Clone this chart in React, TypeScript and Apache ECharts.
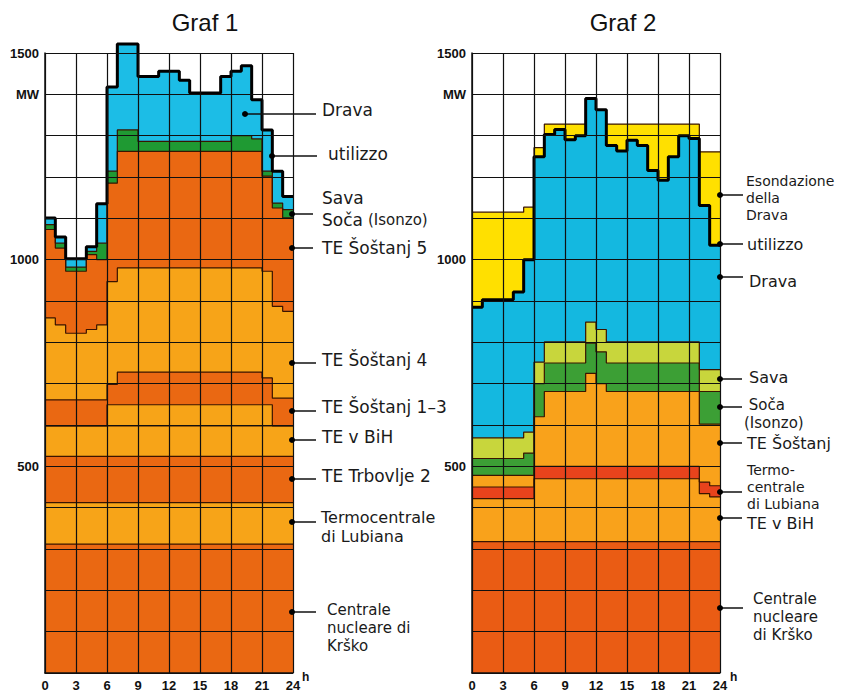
import { useEffect, useRef } from "react";
import * as echarts from "echarts";

// hours 0..23 (each value holds for one hour), axis ends at 24 h
const hours = [0, 1, 2, 3, 4, 5, 6, 7, 8, 9, 10, 11, 12, 13, 14, 15, 16, 17, 18, 19, 20, 21, 22, 23];
const endHour = 24;
const yTickLabels: Record<number, string> = { 1500: "1500", 1400: "MW", 1000: "1000", 500: "500" };

// ---------- Graf 1 (MW per layer, bottom to top) ----------
const g1Krsko = [312, 312, 312, 312, 312, 312, 312, 312, 312, 312, 312, 312, 312, 312, 312, 312, 312, 312, 312, 312, 312, 312, 312, 312];
const g1Lubiana = [100, 100, 100, 100, 100, 100, 100, 100, 100, 100, 100, 100, 100, 100, 100, 100, 100, 100, 100, 100, 100, 100, 100, 100];
const g1Trbovlje2 = [112, 112, 112, 112, 112, 112, 112, 112, 112, 112, 112, 112, 112, 112, 112, 112, 112, 112, 112, 112, 112, 112, 112, 112];
const g1BiH = [74, 74, 74, 74, 74, 74, 74, 74, 74, 74, 74, 74, 74, 74, 74, 74, 74, 74, 74, 74, 74, 74, 74, 74];
const g1BiHDay = [0, 0, 0, 0, 0, 0, 51, 51, 51, 51, 51, 51, 51, 51, 51, 51, 51, 51, 51, 51, 51, 51, 0, 0];
const g1Sostanj13 = [63, 63, 63, 63, 63, 63, 49, 79, 79, 79, 79, 79, 79, 79, 79, 79, 79, 79, 79, 79, 79, 65, 67, 67];
const g1Sostanj4 = [198, 181, 161, 161, 170, 181, 249, 252, 252, 252, 252, 252, 252, 252, 252, 252, 252, 252, 252, 252, 252, 258, 222, 210];
const g1Sostanj5 = [214, 186, 150, 150, 181, 158, 238, 282, 282, 282, 282, 282, 282, 282, 282, 282, 282, 282, 282, 282, 282, 230, 238, 226];
const g1SavaSoca = [12, 12, 10, 10, 8, 40, 29, 52, 52, 24, 24, 24, 24, 24, 24, 24, 24, 24, 38, 38, 30, 12, 12, 20];
const g1Drava = [16, 15, 20, 20, 11, 95, 204, 208, 208, 157, 157, 170, 170, 148, 117, 117, 117, 157, 156, 169, 95, 100, 77, 32];

// ---------- Graf 2 ----------
const g2Krsko = [318, 318, 318, 318, 318, 318, 318, 318, 318, 318, 318, 318, 318, 318, 318, 318, 318, 318, 318, 318, 318, 318, 318, 318];
const g2BiH = [104, 104, 104, 104, 104, 104, 152, 152, 152, 152, 152, 152, 152, 152, 152, 152, 152, 152, 152, 152, 152, 152, 116, 108];
const g2Lubiana = [28, 28, 28, 28, 28, 28, 30, 30, 30, 30, 30, 30, 30, 30, 30, 30, 30, 30, 30, 30, 30, 30, 28, 27];
const g2Sostanj = [28, 28, 28, 28, 28, 28, 120, 181, 181, 181, 181, 225, 200, 181, 181, 181, 181, 181, 181, 181, 181, 181, 140, 149];
const g2Soca = [41, 41, 41, 41, 41, 54, 80, 69, 69, 69, 69, 73, 77, 69, 69, 69, 69, 69, 69, 69, 69, 69, 79, 79];
const g2Sava = [50, 50, 50, 50, 50, 51, 52, 51, 51, 51, 51, 51, 54, 51, 51, 51, 51, 51, 51, 51, 51, 51, 53, 53];
const g2Drava = [316, 334, 334, 334, 353, 417, 497, 502, 514, 489, 499, 541, 532, 475, 462, 488, 475, 415, 391, 448, 499, 492, 397, 301];
const g2Esondazione = [230, 212, 212, 212, 193, 127, 22, 25, 13, 38, 28, 0, 0, 52, 65, 39, 52, 112, 136, 79, 28, 35, 130, 226];

const C1 = { dark: "#ea6812", light: "#f7a418", green: "#1f9a33", cyan: "#1cbde6" };
const C2 = { krsko: "#ea5c14", light: "#f9a21b", red: "#e8431c", green: "#3c9f35", lime: "#c8d63c", cyan: "#14b8e0", yellow: "#ffe000" };

const EDGE = "#3a1400";

type Layer = { name: string; vals: number[]; color: string };

function steps(vals: number[]) {
  const d: number[][] = hours.map((h, i) => [h, vals[i]]);
  d.push([endHour, vals[vals.length - 1]]);
  return d;
}

// cumulative tops, painted from the top layer down so each lower layer covers the one above
function layerSeries(layers: Layer[], gi: number) {
  const tops: number[][] = [];
  let run = hours.map(() => 0);
  layers.forEach((l) => {
    run = run.map((v, i) => v + l.vals[i]);
    tops.push(run);
  });
  const out: any[] = [];
  for (let k = layers.length - 1; k >= 0; k--) {
    out.push({
      type: "line",
      name: layers[k].name,
      xAxisIndex: gi,
      yAxisIndex: gi,
      step: "end",
      symbol: "none",
      clip: false,
      data: steps(tops[k]),
      lineStyle: { color: EDGE, width: 1.2 },
      areaStyle: { color: layers[k].color, opacity: 1, origin: "start" },
      itemStyle: { color: layers[k].color },
      emphasis: { disabled: true },
      z: 2,
    });
  }
  return { out, tops };
}

function totalSeries(name: string, vals: number[], gi: number) {
  return {
    type: "line",
    name,
    xAxisIndex: gi,
    yAxisIndex: gi,
    step: "end",
    symbol: "none",
    clip: false,
    data: steps(vals),
    lineStyle: { color: "#000", width: 3 },
    emphasis: { disabled: true },
    z: 4,
  };
}

type Lbl = { dot: [number, number]; end: number; text: string; x: number; y: number; lh?: number; size?: number };

const labels1: Lbl[] = [
  { dot: [245, 114], end: 316, text: "Drava", x: 322, y: 110 },
  { dot: [272, 156], end: 317, text: "utilizzo", x: 328, y: 154 },
  { dot: [292, 214], end: 313, text: "Sava", x: 322, y: 198 },
  { dot: [292, 214], end: 313, text: "Soča", x: 322, y: 220 },
  { dot: [292, 214], end: 313, text: "(Isonzo)", x: 368, y: 220, size: 15 },
  { dot: [292, 248], end: 313, text: "TE Šoštanj 5", x: 322, y: 248 },
  { dot: [292, 363], end: 316, text: "TE Šoštanj 4", x: 322, y: 360 },
  { dot: [292, 411], end: 316, text: "TE Šoštanj 1–3", x: 322, y: 407 },
  { dot: [292, 440], end: 316, text: "TE v BiH", x: 322, y: 437 },
  { dot: [292, 479], end: 316, text: "TE Trbovlje 2", x: 322, y: 476 },
  { dot: [292, 522], end: 316, text: "Termocentrale\ndi Lubiana", x: 321, y: 527, lh: 19, size: 16 },
  { dot: [292, 612], end: 316, text: "Centrale\nnucleare di\nKrško", x: 327, y: 628, lh: 18, size: 15 },
];

const labels2: Lbl[] = [
  { dot: [720, 195], end: 743, text: "Esondazione\ndella\nDrava", x: 746, y: 197.5, lh: 17, size: 14 },
  { dot: [720, 244], end: 743, text: "utilizzo", x: 747, y: 244 },
  { dot: [720, 277], end: 743, text: "Drava", x: 749, y: 281 },
  { dot: [720, 379], end: 742, text: "Sava", x: 749, y: 377 },
  { dot: [720, 407], end: 742, text: " Soča\n(Isonzo)", x: 744, y: 413.5, lh: 18, size: 15 },
  { dot: [720, 443], end: 742, text: "TE Šoštanj", x: 747, y: 443 },
  { dot: [720, 492], end: 742, text: "Termo-\ncentrale\ndi Lubiana", x: 747, y: 487, lh: 17, size: 14 },
  { dot: [720, 518], end: 742, text: "TE v BiH", x: 747, y: 523 },
  { dot: [720, 608], end: 743, text: "Centrale\nnucleare\ndi Krško", x: 753, y: 617, lh: 18, size: 15 },
];

function labelGraphics(list: Lbl[], size: number) {
  const out: any[] = [];
  const seen = new Set<string>();
  list.forEach((l) => {
    const key = l.dot.join(",");
    if (!seen.has(key)) {
      seen.add(key);
      out.push({
        type: "line",
        shape: { x1: l.dot[0], y1: l.dot[1], x2: l.end, y2: l.dot[1] },
        style: { stroke: "#111", lineWidth: 1.5 },
        z: 20,
      });
      out.push({
        type: "circle",
        shape: { cx: l.dot[0], cy: l.dot[1], r: 3 },
        style: { fill: "#000" },
        z: 21,
      });
    }
    out.push({
      type: "text",
      z: 21,
      style: {
        text: l.text,
        x: l.x,
        y: l.y,
        font: `${l.size || size}px "DejaVu Sans"`,
        lineHeight: l.lh,
        fill: "#1a1a1a",
        align: "left",
        verticalAlign: "middle",
        textAlign: "left",
        textVerticalAlign: "middle",
      },
    });
  });
  return out;
}

export default function App() {
  const ref = useRef<HTMLDivElement>(null);
  useEffect(() => {
    if (!ref.current) return;
    const chart = echarts.init(ref.current, undefined, { renderer: "svg" });

    const L1: Layer[] = [
      { name: "Centrale nucleare di Krško", vals: g1Krsko, color: C1.dark },
      { name: "Termocentrale di Lubiana", vals: g1Lubiana, color: C1.light },
      { name: "TE Trbovlje 2", vals: g1Trbovlje2, color: C1.dark },
      { name: "TE v BiH", vals: g1BiH, color: C1.light },
      { name: "TE v BiH (giorno)", vals: g1BiHDay, color: C1.light },
      { name: "TE Šoštanj 1–3", vals: g1Sostanj13, color: C1.dark },
      { name: "TE Šoštanj 4", vals: g1Sostanj4, color: C1.light },
      { name: "TE Šoštanj 5", vals: g1Sostanj5, color: C1.dark },
      { name: "Sava, Soča (Isonzo)", vals: g1SavaSoca, color: C1.green },
      { name: "Drava", vals: g1Drava, color: C1.cyan },
    ];
    const L2: Layer[] = [
      { name: "Centrale nucleare di Krško", vals: g2Krsko, color: C2.krsko },
      { name: "TE v BiH", vals: g2BiH, color: C2.light },
      { name: "Termocentrale di Lubiana", vals: g2Lubiana, color: C2.red },
      { name: "TE Šoštanj", vals: g2Sostanj, color: C2.light },
      { name: "Soča (Isonzo)", vals: g2Soca, color: C2.green },
      { name: "Sava", vals: g2Sava, color: C2.lime },
      { name: "Drava", vals: g2Drava, color: C2.cyan },
      { name: "Esondazione della Drava", vals: g2Esondazione, color: C2.yellow },
    ];
    const s1 = layerSeries(L1, 0);
    const s2 = layerSeries(L2, 1);
    const util1 = s1.tops[L1.length - 1];
    const util2 = s2.tops[L2.length - 2];

    const axisFont = { fontFamily: "Liberation Sans", fontWeight: "bold" as const, fontSize: 13, color: "#111" };

    const xAxes = [0, 1].map((i) => ({
      type: "value",
      gridIndex: i,
      min: 0,
      max: 24,
      interval: 3,
      z: 10,
      axisLine: { show: true, onZero: false, lineStyle: { color: "#111", width: 1.5 } },
      axisTick: { show: false },
      splitLine: { show: true, lineStyle: { color: "#101010", width: 1.2 } },
      axisLabel: { ...axisFont, margin: 6 },
    }));
    const yAxes = [0, 1].map((i) => ({
      type: "value",
      gridIndex: i,
      min: 0,
      max: 1500,
      interval: 100,
      z: 10,
      axisLine: { show: true, lineStyle: { color: "#111", width: 1.5 } },
      axisTick: { show: false },
      splitLine: { show: true, lineStyle: { color: "#101010", width: 1.2 } },
      axisLabel: { ...axisFont, margin: 6, formatter: (v: number) => yTickLabels[v] || "" },
    }));

    const series: any[] = [...s1.out, totalSeries("utilizzo", util1, 0), ...s2.out, totalSeries("utilizzo", util2, 1)];

    const txt = (text: string, x: number, y: number, font: string, align = "left") => ({
      type: "text",
      z: 21,
      style: { text, x, y, font, fill: "#111", align, verticalAlign: "middle", textAlign: align, textVerticalAlign: "middle" },
    });

    const graphic: any[] = [
      txt("Graf 1", 205, 22, '24px "Liberation Sans"', "center"),
      txt("Graf 2", 623, 22, '24px "Liberation Sans"', "center"),
      txt("h", 302, 677, 'bold 12px "Liberation Sans"'),
      txt("h", 730, 677, 'bold 12px "Liberation Sans"'),
      ...labelGraphics(labels1, 17),
      ...labelGraphics(labels2, 16),
    ];

    chart.setOption({
      animation: false,
      backgroundColor: "#ffffff",
      textStyle: { fontFamily: "Liberation Sans" },
      grid: [
        { left: 45, top: 53, width: 248, height: 620 },
        { left: 472, top: 53, width: 248, height: 620 },
      ],
      xAxis: xAxes,
      yAxis: yAxes,
      series,
      graphic,
    });
    return () => chart.dispose();
  }, []);
  return <div ref={ref} style={{ position: "absolute", left: 0, top: 0, width: 854, height: 693 }} />;
}
